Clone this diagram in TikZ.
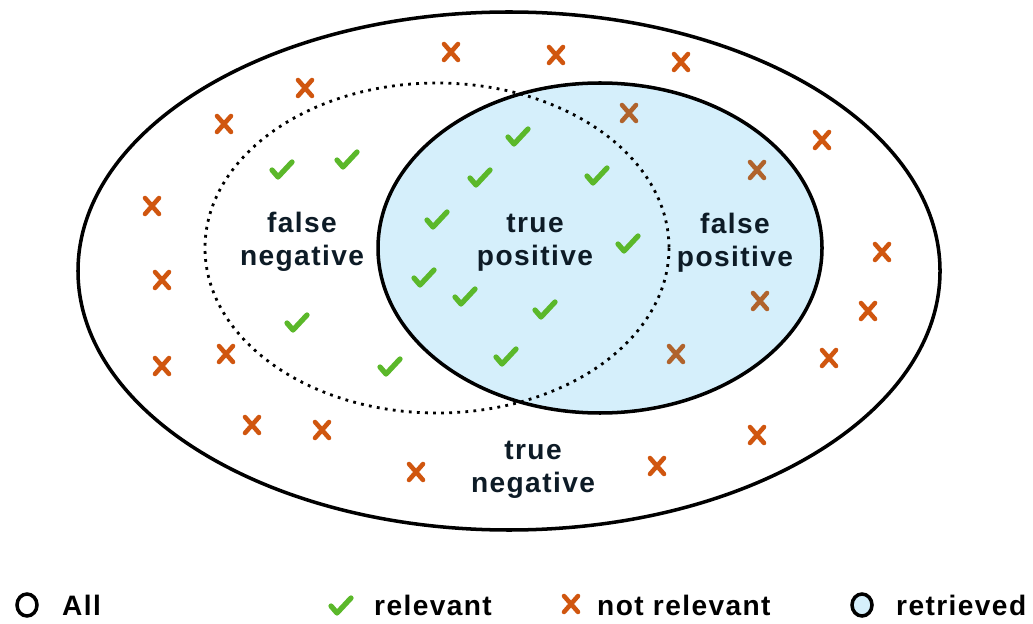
\documentclass[tikz,border=0pt]{standalone}
\usepackage{fontspec}
\setmainfont{Liberation Sans}[LetterSpace=5]
\definecolor{checkgreen}{HTML}{5BB82A}
\definecolor{crossorange}{HTML}{D0560F}
\definecolor{crossbrown}{HTML}{B0632C}
\definecolor{retrievedblue}{HTML}{D5EFFB}
\definecolor{textdark}{HTML}{0D1B26}
\tikzset{
    checkmark/.pic={\draw[checkgreen, line width=3pt, line cap=round, line join=round] (-10,0) -- (-4,7) -- (10,-8);},
    crossmark/.pic={\draw[line width=2.6pt, line cap=round] (-7,-8) -- (7,8) (-7,8) -- (7,-8);},
    setlabel/.style={font=\fontsize{16}{19}\selectfont\bfseries, text=textdark, align=center},
    legendlabel/.style={font=\fontsize{16}{19}\selectfont\bfseries, anchor=west}
}
\begin{document}
\begin{tikzpicture}[x=0.02cm, y=-0.02cm]
        \useasboundingbox (0,0) rectangle (1033,624);

        % Draw the sets
        \draw[line width=2pt, fill=white] (509,271) ellipse [x radius=431, y radius=259];
        \draw[line width=2pt, fill=retrievedblue] (600,248) ellipse [x radius=222, y radius=165];
        \draw[line width=1.6pt, dash pattern=on 1.6pt off 3pt] (437,248) ellipse [x radius=232, y radius=165];

        % Relevant items
        \foreach \x/\y in {282/170, 347/160, 518/137, 480/178, 597/176, 437/220, 628/244,
                           424/278, 465/297, 545/310, 297/323, 390/367, 506/357} {
            \pic at (\x,\y) {checkmark};
        };

        % Not relevant items
        \foreach \x/\y in {451/52, 556/55, 681/62, 305/88, 224/124, 822/140, 152/206, 162/280,
                           882/252, 868/311, 162/366, 226/354, 829/358, 252/425, 322/430,
                           757/435, 416/472, 657/466} {
            \pic[crossorange] at (\x,\y) {crossmark};
        };
        \foreach \x/\y in {629/113, 757/170, 760/301, 676/354} {
            \pic[crossbrown] at (\x,\y) {crossmark};
        };

        % Labels
        \node[setlabel] (fneg) at (302,242) {false\\negative};
        \node[setlabel] (tpos) at (535,243) {true\\positive};
        \node[setlabel] (fpos) at (735,243) {false\\positive};
        \node[setlabel] (tneg) at (533,470) {true\\negative};

        % Legend
        \draw[line width=2pt] (27,605) ellipse [x radius=10, y radius=11];
        \node[legendlabel] (lall) at (56,605) {All};
        \pic at (341,606) {checkmark};
        \node[legendlabel] (lrel) at (368,605) {relevant};
        \pic[crossorange] at (571,604) {crossmark};
        \node[legendlabel] (lnot) at (591,605) {not relevant};
        \draw[line width=2pt, fill=retrievedblue] (862,605) ellipse [x radius=10, y radius=11];
        \node[legendlabel] (lret) at (890,605) {retrieved};
    \end{tikzpicture}
\end{document}
